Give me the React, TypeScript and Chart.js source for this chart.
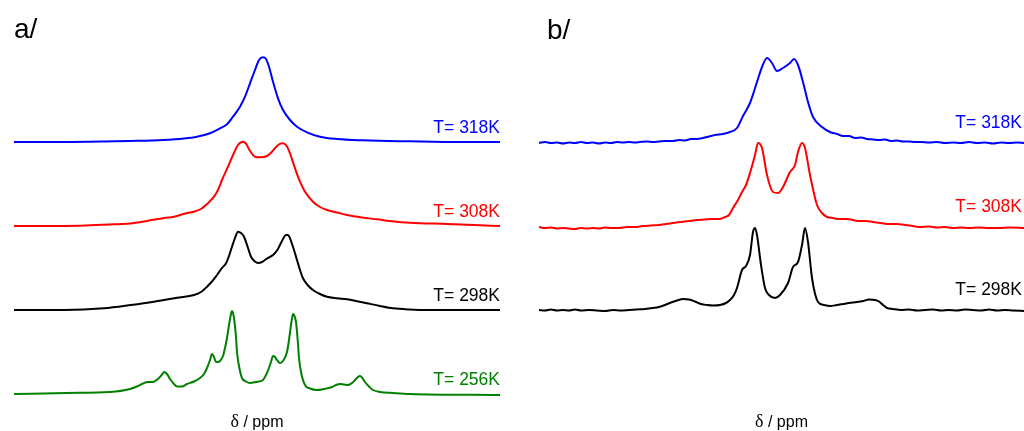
import React, { useEffect, useRef } from "react";
import { Chart, registerables } from "chart.js";

Chart.register(...registerables);

type Pt = [number, number];

// ---------- labels ----------
const panelLetters = ["a/", "b/"];
const tempLabelsA = ["T= 318K", "T= 308K", "T= 298K", "T= 256K"];
const tempLabelsB = ["T= 318K", "T= 308K", "T= 298K"];
const axisTitle = ["δ", " / ppm"];

// ---------- colours ----------
const colorsA = ["#0000ff", "#ff0000", "#000000", "#008000"];
const colorsB = ["#0000ff", "#ff0000", "#000000"];

// ---------- stacking offsets (intensity units) ----------
const offsetsA = [289, 205, 121, 37];
const offsetsB = [288, 204, 121];

// ---------- panel a: spectra [position, intensity] ----------
const a318: Pt[] = [
  [0, 0], [50, 0], [100, 0.7], [116, 1], [149, 2], [170, 3.5], [183, 5.3], [196, 8.7],
  [206, 13.7], [213, 17.7], [219, 25.3], [226, 35.3], [231, 45.3], [236, 58.7], [241, 72],
  [245, 82], [249, 84.7], [252, 83], [255, 75.3], [259, 60.3], [264, 43.7], [269, 32],
  [276, 22], [283, 15.3], [293, 9.7], [306, 5.3], [323, 3], [349, 1.7], [396, 0.7],
  [446, 0], [486, 0],
];
const a308: Pt[] = [
  [0, 0], [50, 0], [100, 1.7], [116, 2.5], [133, 5], [150, 8], [160, 9.3], [173, 13],
  [180, 14.3], [187, 17], [193, 22], [200, 29.3], [204, 36], [208, 46], [214, 59.3],
  [219, 71], [224, 81], [229, 84.3], [232, 82.3], [236, 75], [241, 69.3], [246, 68.7],
  [253, 70], [258, 74.3], [263, 80], [268, 82.7], [272, 81], [276, 72.7], [281, 57.7],
  [286, 44.3], [291, 34.3], [299, 24.3], [306, 19], [313, 16], [323, 13.5], [333, 11],
  [348, 8.5], [363, 6.7], [380, 4.5], [396, 3.3], [433, 2], [460, 1], [486, 0],
];
const a298: Pt[] = [
  [0, 0], [50, 0], [90, 1.7], [117, 5], [140, 8.3], [163, 12.3], [180, 15], [187, 18],
  [193, 23.3], [198, 28.5], [203, 35], [208, 42], [212, 46.7], [215, 54], [218, 63.3],
  [221, 72], [224, 78.3], [227, 77], [230, 73.3], [234, 62], [237, 53.3], [241, 48.5],
  [244, 47], [248, 48], [253, 51.5], [259, 55], [263, 59.5], [266, 65], [269, 71],
  [272, 75], [274, 75], [276, 71.7], [280, 60], [283, 50], [286, 40], [289, 31.7],
  [294, 24.5], [299, 20], [306, 16], [313, 13.3], [323, 11.8], [333, 10.7], [343, 8.8],
  [353, 6.7], [366, 4], [379, 1.7], [396, 0.5], [413, 0], [486, 0],
];
const a256: Pt[] = [
  [0, 0], [53, 1], [96, 2], [116, 5], [124, 8], [129, 10.5], [134, 12], [139, 12],
  [144, 15], [148, 19.5], [150, 22], [153, 20], [156, 15], [160, 10], [163, 7.5],
  [168, 7.5], [173, 10], [180, 12.5], [186, 16], [190, 20], [193, 26], [196, 34],
  [198, 40], [200, 37], [202, 32], [204, 32], [206, 33], [209, 38], [211, 46], [213, 56],
  [215, 69], [217, 80], [218, 83], [219, 81], [220, 76], [222, 57], [223, 42], [225, 28],
  [228, 16], [232, 12.5], [236, 11], [242, 12], [249, 14], [252, 19], [255, 26],
  [257, 32], [259, 38], [261, 37], [263, 34], [266, 31], [269, 33], [273, 42], [275, 54],
  [277, 69], [279, 80], [280, 79], [282, 72], [284, 50], [285, 36], [287, 22], [291, 9],
  [296, 5.5], [303, 4], [310, 5], [318, 7], [322, 9], [326, 10], [330, 9.5], [334, 9],
  [338, 11], [341, 14], [344, 17], [346, 18], [348, 16.5], [351, 12], [355, 7.5],
  [359, 4], [366, 2], [379, 1], [396, 0], [486, -1],
];

// ---------- panel b: spectra [position, intensity] ----------
const b318: Pt[] = [
  [0, 0], [6, 1], [12, 0], [18, 0.5], [24, -0.5], [30, 0.5], [36, 0], [42, 1], [48, 0],
  [54, 0.5], [60, -0.5], [66, 0.5], [72, 0], [78, 1], [84, 0.5], [90, 1], [96, 0.5],
  [101, 1], [108, 1.5], [114, 1], [120, 1.5], [127, 2], [134, 2], [140, 3], [146, 2.5],
  [152, 4], [158, 4], [164, 5], [170, 6.5], [176, 8], [184, 9], [191, 11], [198, 15],
  [204, 27], [211, 40], [218, 61], [223, 76], [228, 85], [233, 80], [238, 72], [244, 75],
  [251, 80], [255, 84], [259, 78], [264, 61], [269, 41], [274, 26], [283, 16], [291, 11],
  [298, 9], [304, 7], [310, 7], [316, 5], [322, 5.5], [328, 4], [334, 3.5], [340, 3],
  [346, 3.5], [352, 2], [358, 2.5], [364, 1.5], [370, 1.5], [376, 1], [382, 1], [390, 0.5],
  [398, 1], [406, 0], [414, 0.5], [422, 0], [430, 1], [438, 0], [446, 0.5], [454, -0.5],
  [462, 0.5], [470, 0], [478, 0.5], [485, 0],
];
const b308: Pt[] = [
  [0, 0], [6, -1], [12, -0.5], [18, -1.5], [24, -1], [30, -1.5], [36, -2], [42, -1],
  [48, -1.5], [54, -1], [60, -1.5], [66, -0.5], [72, -1], [80, -1], [88, 0], [96, 0],
  [104, 1], [112, 1.5], [120, 2], [127, 3], [134, 4], [142, 5], [150, 6], [158, 7],
  [166, 7.5], [172, 8], [180, 8], [186, 10], [190, 12], [194, 19], [199, 27], [203, 35],
  [207, 42], [211, 54], [216, 72], [219, 84], [223, 79], [228, 52], [234, 35], [239, 34],
  [244, 40], [251, 55], [256, 62], [259, 75], [263, 84], [266, 79], [271, 52], [278, 22],
  [283, 14], [288, 10], [294, 9], [300, 8], [308, 8], [314, 7], [320, 6], [327, 6],
  [334, 5], [342, 4], [350, 3], [358, 3], [366, 2], [374, 1], [381, 0], [390, 0.5],
  [398, -0.5], [406, 0], [414, -1], [422, -0.5], [430, -1], [440, -0.5], [450, -1],
  [460, -1], [470, -0.5], [485, -1],
];
const b298: Pt[] = [
  [0, 0], [6, -0.5], [12, 0.5], [18, -0.5], [24, 0], [30, -0.5], [36, 0.5], [42, -0.5],
  [50, 0], [58, -0.5], [66, -1], [74, 0], [82, -0.5], [90, 0], [98, 0.5], [106, 1],
  [114, 2], [120, 3], [126, 5], [132, 7.5], [138, 9.5], [144, 11], [150, 10.5], [156, 8.5],
  [162, 6], [168, 5], [174, 4.5], [181, 5], [187, 7], [191, 10], [195, 15], [198, 22],
  [203, 40], [207, 44], [211, 55], [214, 78], [216, 82], [218, 75], [222, 45], [226, 22],
  [230, 15], [236, 12], [241, 15], [249, 27], [254, 43], [259, 48], [263, 65], [266, 82],
  [269, 68], [273, 32], [279, 8], [285, 5], [291, 4], [298, 5], [304, 6], [310, 7],
  [318, 8], [324, 9], [330, 10.5], [336, 10], [340, 8.5], [344, 5], [348, 2], [354, 1],
  [362, 0], [370, 0.5], [378, -0.5], [386, 0], [394, 0.5], [402, -0.5], [410, 0],
  [418, -0.5], [426, 0.5], [434, 0], [442, -0.5], [450, 0.5], [458, -0.5], [466, 0],
  [474, -0.5], [485, -1],
];

const seriesA = [a318, a308, a298, a256];
const seriesB = [b318, b308, b298];

type PanelCfg = {
  letter: string;
  letterDx: number;
  letterY: number;
  labels: string[];
  colors: string[];
  offsets: number[];
  labelGap: number;
  labelDx: number;
};

function makeLabelPlugin(cfg: PanelCfg) {
  return {
    id: "stackLabels",
    afterDraw(chart: any) {
      const { ctx, chartArea, scales } = chart;
      ctx.save();
      // panel letter
      ctx.font = "28px 'Liberation Sans', Arial, sans-serif";
      ctx.fillStyle = "#000";
      ctx.textAlign = "left";
      ctx.textBaseline = "alphabetic";
      ctx.fillText(cfg.letter, chartArea.left + cfg.letterDx, cfg.letterY);
      // temperature labels
      ctx.font = "17.5px 'Liberation Sans', Arial, sans-serif";
      ctx.textAlign = "right";
      ctx.textBaseline = "middle";
      cfg.labels.forEach((t, i) => {
        ctx.fillStyle = cfg.colors[i];
        const y = scales.y.getPixelForValue(cfg.offsets[i]) - cfg.labelGap;
        ctx.fillText(t, chartArea.right - cfg.labelDx, y);
      });
      // axis title  δ / ppm
      const fDelta = "18px 'Liberation Serif', 'DejaVu Serif', serif";
      const fRest = "16px 'Liberation Sans', Arial, sans-serif";
      ctx.font = fDelta;
      const w1 = ctx.measureText(axisTitle[0]).width;
      ctx.font = fRest;
      const w2 = ctx.measureText(axisTitle[1]).width;
      const cx = (chartArea.left + chartArea.right) / 2;
      const x0 = cx - (w1 + w2) / 2;
      const yT = 427;
      ctx.fillStyle = "#000";
      ctx.textAlign = "left";
      ctx.textBaseline = "alphabetic";
      ctx.font = fDelta;
      ctx.fillText(axisTitle[0], x0, yT);
      ctx.font = fRest;
      ctx.fillText(axisTitle[1], x0 + w1, yT);
      ctx.restore();
    },
  };
}

function Panel(props: {
  series: Pt[][];
  colors: string[];
  offsets: number[];
  xMax: number;
  padLeft: number;
  padRight: number;
  cfg: PanelCfg;
  left: number;
}) {
  const ref = useRef<HTMLCanvasElement | null>(null);
  useEffect(() => {
    if (!ref.current) return;
    const datasets = props.series.map((s, i) => ({
      data: s.map(([x, v]) => ({ x, y: props.offsets[i] + v })),
      borderColor: props.colors[i],
      backgroundColor: props.colors[i],
      borderWidth: 2,
      pointRadius: 0,
      fill: false,
      cubicInterpolationMode: "monotone" as const,
      clip: false as any,
    }));
    const chart = new Chart(ref.current, {
      type: "line",
      data: { datasets },
      options: {
        animation: false,
        responsive: false,
        maintainAspectRatio: false,
        parsing: false as any,
        layout: { padding: { left: props.padLeft, right: props.padRight, top: 0, bottom: 0 } },
        scales: {
          x: { type: "linear", min: 0, max: props.xMax, display: false },
          y: { type: "linear", min: 0, max: 431, display: false },
        },
        plugins: { legend: { display: false }, tooltip: { enabled: false }, title: { display: false } },
      },
      plugins: [makeLabelPlugin(props.cfg)],
    });
    return () => chart.destroy();
  }, []);
  return (
    <canvas
      ref={ref}
      width={512}
      height={431}
      style={{ position: "absolute", left: props.left, top: 0, width: 512, height: 431 }}
    />
  );
}

export default function App() {
  return (
    <div
      style={{
        position: "absolute",
        left: 0,
        top: 0,
        width: 1024,
        height: 431,
        background: "#fff",
        overflow: "hidden",
      }}
    >
      <Panel
        series={seriesA}
        colors={colorsA}
        offsets={offsetsA}
        xMax={486}
        padLeft={14}
        padRight={12}
        left={0}
        cfg={{
          letter: panelLetters[0],
          letterDx: 0,
          letterY: 38,
          labels: tempLabelsA,
          colors: colorsA,
          offsets: offsetsA,
          labelGap: 13.5,
          labelDx: 0,
        }}
      />
      <Panel
        series={seriesB}
        colors={colorsB}
        offsets={offsetsB}
        xMax={485}
        padLeft={27}
        padRight={0}
        left={512}
        cfg={{
          letter: panelLetters[1],
          letterDx: 8,
          letterY: 39,
          labels: tempLabelsB,
          colors: colorsB,
          offsets: offsetsB,
          labelGap: 19.5,
          labelDx: 2,
        }}
      />
    </div>
  );
}
